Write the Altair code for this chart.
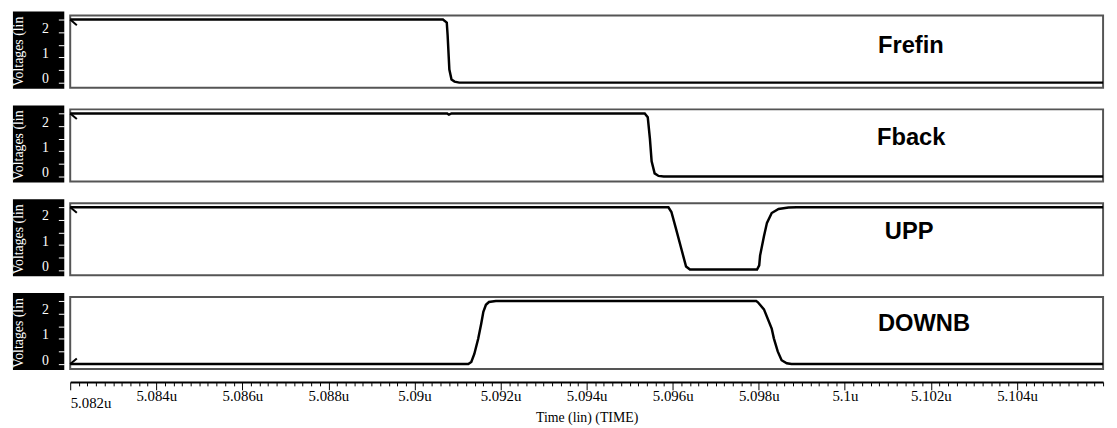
import altair as alt
import pandas as pd

# ---------------- data (time in microseconds, voltage in volts) ----------------
SIGNALS = ["Frefin", "Fback", "UPP", "DOWNB"]

FREFIN_T = [5.082, 5.09066, 5.09075, 5.09077, 5.09081, 5.09086, 5.09093, 5.09104, 5.106]
FREFIN_V = [2.5, 2.5, 2.38, 1.87, 0.52, 0.12, 0.04, 0.0, 0.0]

FBACK_T = [5.082, 5.09076, 5.0908, 5.09086, 5.09535, 5.09542, 5.09547, 5.09551,
           5.09558, 5.09567, 5.09579, 5.106]
FBACK_V = [2.5, 2.5, 2.45, 2.5, 2.5, 2.35, 1.5, 0.6, 0.12, 0.02, 0.0, 0.0]

UPP_T = [5.082, 5.0959, 5.09597, 5.09608, 5.0962, 5.09631, 5.0964, 5.09796, 5.09801,
         5.09803, 5.09812, 5.09819, 5.0983, 5.09846, 5.09869, 5.09888, 5.106]
UPP_V = [2.5, 2.5, 2.31, 1.62, 0.85, 0.15, 0.03, 0.03, 0.19, 0.58, 1.35, 1.88, 2.27,
         2.43, 2.49, 2.5, 2.5]

DOWNB_T = [5.082, 5.09125, 5.09132, 5.09139, 5.09148, 5.09155, 5.0916, 5.09166, 5.09173,
           5.09189, 5.09794, 5.09798, 5.09812, 5.0983, 5.09835, 5.09844, 5.09853, 5.09865,
           5.09876, 5.106]
DOWNB_V = [0.0, 0.0, 0.08, 0.4, 1.0, 1.6, 2.07, 2.35, 2.46, 2.5, 2.5, 2.45, 2.17, 1.41,
           1.02, 0.5, 0.15, 0.03, 0.0, 0.0]

X_DOMAIN = [5.082, 5.106]
Y_DOMAIN = [-0.2, 2.66]
Y_TICKS = [0, 0.5, 1, 1.5, 2, 2.5]
X_MAJOR = [5.082, 5.084, 5.086, 5.088, 5.090, 5.092, 5.094, 5.096, 5.098, 5.100, 5.102, 5.104]
X_MAJOR_LABELS = ["5.082u", "5.084u", "5.086u", "5.088u", "5.09u", "5.092u", "5.094u",
                  "5.096u", "5.098u", "5.1u", "5.102u", "5.104u"]
X_MINOR = [round(5.082 + i * 0.0002, 4) for i in range(121)]

SERIES = [(FREFIN_T, FREFIN_V), (FBACK_T, FBACK_V), (UPP_T, UPP_V), (DOWNB_T, DOWNB_V)]

# ---------------- styling ----------------
W, H = 1046, 73
LABEL_X = [818, 817, 825, 818]
LABEL_Y = [31, 29, 29, 27]
SERIF = "Liberation Serif"

major_list = "[" + ",".join("'%.4f'" % m for m in X_MAJOR) + "]"
label_list = "[" + ",".join("'%s'" % s for s in X_MAJOR_LABELS) + "]"
idx_expr = "indexof(%s, format(datum.value, '.4f'))" % major_list
major_test = idx_expr + " >= 0"
label_expr = "%s[%s] || ''" % (label_list, idx_expr)
first_test = "datum.value < 5.0821"

x_axis = alt.Axis(
    values=X_MINOR,
    tickCount=400,
    title="Time (lin) (TIME)",
    offset=13,
    grid=False,
    domainColor="black",
    domainWidth=2,
    tickColor="black",
    tickWidth=1,
    tickSize={"condition": {"test": major_test, "value": 8}, "value": 4},
    labelExpr=label_expr,
    labelFont=SERIF,
    labelFontSize=15,
    labelColor="black",
    labelPadding=6,
    labelBaseline={"condition": {"test": first_test, "value": "top"}, "value": "middle"},
    labelAlign={"condition": {"test": first_test, "value": "left"}, "value": "center"},
    labelFlush=False,
    labelOverlap=False,
    titleFont=SERIF,
    titleFontSize=14,
    titleFontWeight="normal",
    titleColor="black",
    titleY=36,
    titleBaseline="middle",
)

y_axis = alt.Axis(
    values=Y_TICKS,
    tickCount=50,
    labelExpr="datum.value % 1 == 0 ? format(datum.value, 'd') : ''",
    domain=False,
    offset=6,
    tickSize=6,
    tickColor="white",
    tickWidth=1,
    labelColor="white",
    labelFont=SERIF,
    labelFontSize={"condition": {"test": "datum.value % 1 != 0", "value": 0}, "value": 14},
    labelPadding=10,
    labelBaseline="alphabetic",
    labelOverlap=False,
    grid=False,
    title="Voltages (lin",
    titleColor="white",
    titleFont=SERIF,
    titleFontSize=14,
    titleFontWeight="normal",
    titleAngle=270,
    titleX=-46,
    titleY=36,
    titleAlign="center",
    titleBaseline="middle",
    zindex=1,
)


def panel(i, show_x):
    t, v = SERIES[i]
    df = pd.DataFrame({"t": t, "v": v})
    xenc = alt.X("t:Q", scale=alt.Scale(domain=X_DOMAIN, nice=False, zero=False),
                 axis=x_axis if show_x else None)
    yenc = alt.Y("v:Q", scale=alt.Scale(domain=Y_DOMAIN, nice=False, zero=False),
                 axis=y_axis)
    one = alt.Data(values=[{"s": SIGNALS[i]}])
    box = alt.Chart(one).mark_rect(color="black").encode(
        x=alt.value(-58), x2=alt.value(-6), y=alt.value(-4), y2=alt.value(H + 1))
    line = alt.Chart(df).mark_line(color="black", strokeWidth=2.5).encode(x=xenc, y=yenc)
    shape = "M0,0L1,0.85" if v[0] > 1 else "M0,0L1,-0.85"
    arrow = alt.Chart(df.head(1)).mark_point(
        shape=shape, filled=False, stroke="black", strokeWidth=2, size=180, opacity=1
    ).encode(x="t:Q", y="v:Q")
    label = alt.Chart(one).mark_text(
        font="Liberation Sans", fontWeight="bold", fontSize=24, align="left",
        baseline="middle", color="black"
    ).encode(x=alt.value(LABEL_X[i]), y=alt.value(LABEL_Y[i]), text="s:N")
    return alt.layer(box, line, arrow, label).properties(width=W, height=H)


chart = alt.vconcat(
    *[panel(i, i == 3) for i in range(4)], spacing=22, bounds="flush"
).properties(
    padding={"left": 3, "top": 0, "right": 0, "bottom": 0},
    background="white",
).configure_view(
    stroke="#555", strokeWidth=2
)

chart.save("out.html", embed_options={"renderer": "svg", "actions": False})
